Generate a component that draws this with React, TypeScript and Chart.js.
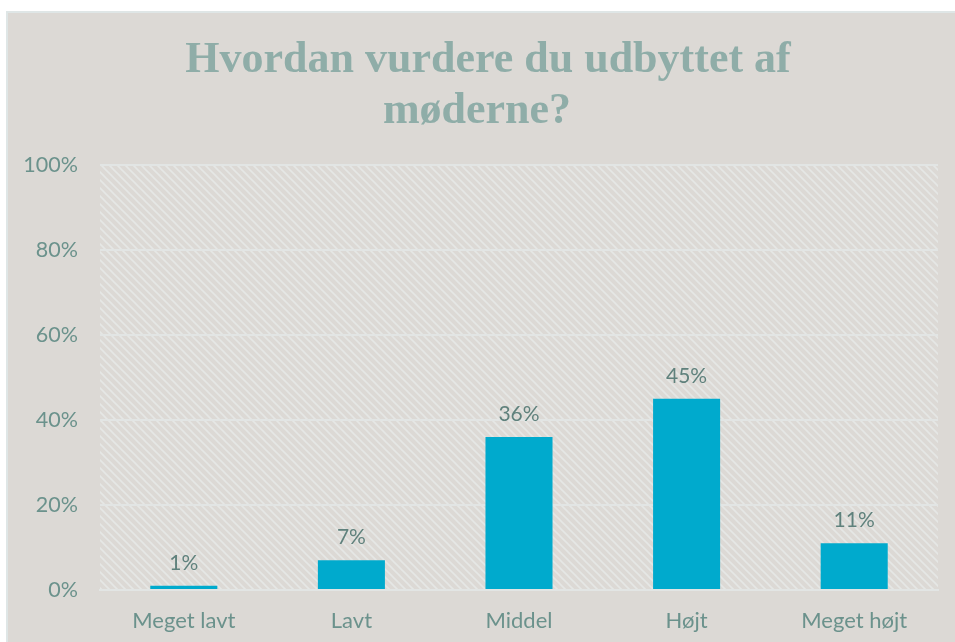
import React, { useEffect, useRef } from "react";
import { Chart, registerables } from "chart.js";

Chart.register(...registerables);

const categories = ["Meget lavt", "Lavt", "Middel", "Højt", "Meget højt"];
const values = [0.01, 0.07, 0.36, 0.45, 0.11];
const valueLabels = ["1%", "7%", "36%", "45%", "11%"];
const titleLines = ["Hvordan vurdere du udbyttet af", "møderne?"];

const BG = "#dcd9d5";
const AXIS_TEXT = "#6b928c";
const LABEL_TEXT = "#5f817c";
const BAR = "#00aacd";
const GRID = "#e2e5e4";

function makePattern(ctx: CanvasRenderingContext2D) {
  const c = document.createElement("canvas");
  c.width = 8;
  c.height = 8;
  const p = c.getContext("2d")!;
  p.fillStyle = BG;
  p.fillRect(0, 0, 8, 8);
  p.strokeStyle = "#e5e7e5";
  p.lineWidth = 1.6;
  p.beginPath();
  p.moveTo(-2, -2);
  p.lineTo(10, 10);
  p.moveTo(-10, -2);
  p.lineTo(2, 10);
  p.moveTo(6, -2);
  p.lineTo(18, 10);
  p.stroke();
  return ctx.createPattern(c, "repeat");
}

const hatchPlugin = {
  id: "hatch",
  beforeDraw(chart: any) {
    const { ctx, chartArea } = chart;
    const pat = makePattern(ctx);
    if (!pat) return;
    ctx.save();
    ctx.fillStyle = pat;
    ctx.fillRect(chartArea.left, chartArea.top, chartArea.right - chartArea.left, chartArea.bottom - chartArea.top);
    ctx.restore();
  },
};

const titlePlugin = {
  id: "customTitle",
  afterDraw(chart: any) {
    const { ctx } = chart;
    ctx.save();
    ctx.fillStyle = "#8fada8";
    ctx.font = "bold 44px 'Liberation Serif', 'DejaVu Serif', serif";
    ctx.textAlign = "center";
    ctx.textBaseline = "alphabetic";
    ctx.fillText(titleLines[0], 488, 72);
    ctx.fillText(titleLines[1], 477, 123);
    ctx.restore();
  },
};

const valueLabelPlugin = {
  id: "valueLabels",
  afterDatasetsDraw(chart: any) {
    const { ctx } = chart;
    const meta = chart.getDatasetMeta(0);
    ctx.save();
    ctx.fillStyle = LABEL_TEXT;
    ctx.font = "21px Lato, 'Open Sans', sans-serif";
    ctx.textAlign = "center";
    ctx.textBaseline = "alphabetic";
    meta.data.forEach((bar: any, i: number) => {
      ctx.fillText(valueLabels[i], bar.x, bar.y - 16);
    });
    ctx.restore();
  },
};

export default function App() {
  const ref = useRef<HTMLCanvasElement>(null);
  useEffect(() => {
    if (!ref.current) return;
    const chart = new Chart(ref.current, {
      type: "bar",
      data: {
        labels: categories,
        datasets: [
          {
            data: values,
            backgroundColor: BAR,
            categoryPercentage: 0.4,
            barPercentage: 1,
          },
        ],
      },
      options: {
        animation: false,
        responsive: false,
        layout: { padding: { left: 0, right: 17, top: 165, bottom: 0 } },
        plugins: {
          legend: { display: false },
          tooltip: { enabled: false },
          title: { display: false },
        },
        scales: {
          x: {
            grid: { display: false, drawTicks: false },
            border: { display: true, color: GRID, width: 2 },
            ticks: { color: AXIS_TEXT, font: { family: "Lato, 'Open Sans', sans-serif", size: 22 }, padding: 18 },
            afterFit: (s: any) => {
              s.height = 52;
            },
          },
          y: {
            min: 0,
            max: 1,
            ticks: {
              stepSize: 0.2,
              color: AXIS_TEXT,
              font: { family: "Lato, 'Open Sans', sans-serif", size: 21.5 },
              padding: 22,
              callback: (v: any) => Math.round(Number(v) * 100) + "%",
            },
            grid: { color: GRID, lineWidth: 2, drawTicks: false },
            border: { display: false },
            afterFit: (s: any) => {
              s.width = 100;
            },
          },
        },
      },
      plugins: [hatchPlugin, valueLabelPlugin, titlePlugin],
    });
    return () => chart.destroy();
  }, []);

  return (
    <div style={{ position: "absolute", left: 0, top: 0, width: 955, height: 642, overflow: "hidden" }}>
      <div
        style={{
          position: "absolute",
          left: 6,
          top: 11,
          width: 960,
          height: 640,
          background: BG,
          border: "2px solid #dfe6e6",
        }}
      />
      <canvas ref={ref} width={955} height={642} style={{ position: "absolute", left: 0, top: 0, width: 955, height: 642 }} />
    </div>
  );
}
